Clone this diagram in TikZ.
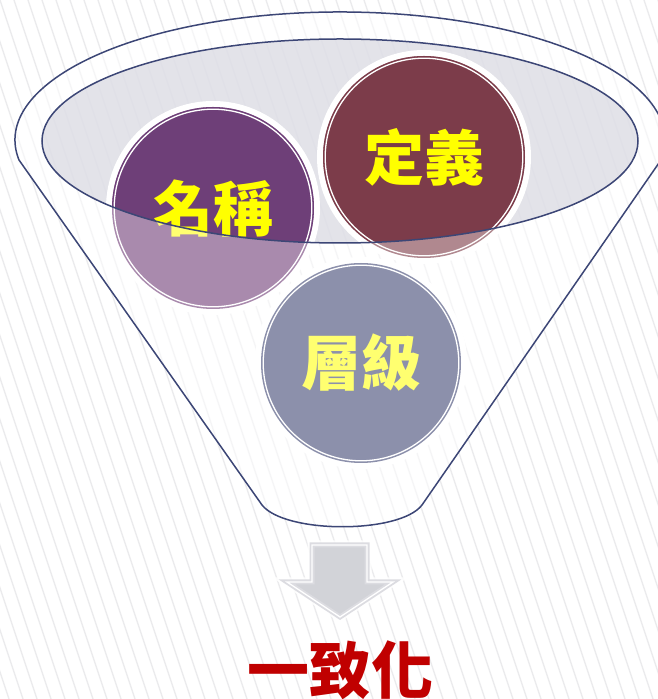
\documentclass[tikz,border=0pt]{standalone}
\usepackage{fontspec}
\newfontfamily\cjk{Noto Sans CJK TC}
\definecolor{stripecol}{HTML}{EBEBED}
\definecolor{navy}{HTML}{3C4676}
\definecolor{rimfill}{HTML}{DADAE2}
\definecolor{nameDark}{HTML}{6E3F78}
\definecolor{nameLight}{HTML}{A98AAD}
\definecolor{defDark}{HTML}{7C3C4A}
\definecolor{defLight}{HTML}{B0888F}
\definecolor{levelCol}{HTML}{8C90AB}
\definecolor{txtYellow}{HTML}{FFFF00}
\definecolor{txtLight}{HTML}{FFFF70}
\definecolor{arrowFill}{HTML}{D2D3D8}
\definecolor{arrowEdge}{HTML}{DCDCE1}
\definecolor{resultRed}{HTML}{C00000}
\tikzset{
  stripe/.style={draw=stripecol, line width=1.3pt},
  funnelline/.style={draw=navy, line width=1.5pt},
  halo/.style={fill=white},
  innerring/.style={draw=white, line width=1.3pt},
  label/.style={font=\cjk\bfseries\fontsize{60}{60}\selectfont, inner sep=0pt},
  result/.style={font=\cjk\bfseries\fontsize{62}{62}\selectfont, inner sep=0pt, text=resultRed}
}
\begin{document}
\begin{tikzpicture}[x=1pt,y=1pt]
\clip (0,0) rectangle (658,699);
\fill[white] (0,0) rectangle (658,699);
% background stripes
\foreach \i in {-18,...,48} {
  \draw[stripe] (\i*14,699) -- ++(233,-699);
}
% funnel body
\path[funnelline, fill=white, fill opacity=0.55]
  (262,194) -- (19,539) arc[start angle=189, end angle=-9, x radius=325, y radius=128]
  -- (422,194) .. controls (400,165) and (285,165) .. (262,194) -- cycle;
% inner rim fill
\fill[rimfill, opacity=0.75] (340,558) ellipse[x radius=298, y radius=102];
% circle halos
\fill[halo] (213,491) circle (107);
\fill[halo] (424,542) circle (107);
\fill[halo] (361,336) circle (106);
% light (outside-rim) versions
\fill[nameLight] (213,491) circle (101);
\draw[innerring] (213,491) circle (98.8);
\fill[defLight] (424,542) circle (101);
\draw[innerring] (424,542) circle (98.8);
\node[label, text=txtLight] (nameL) at (213,491) {名稱};
\node[label, text=txtLight] (defL) at (424,542) {定義};
% dark (inside-rim) versions
\begin{scope}
  \clip (340,558) ellipse[x radius=298, y radius=102];
  \fill[nameDark] (213,491) circle (101);
  \draw[innerring] (213,491) circle (98.8);
  \fill[defDark] (424,542) circle (101);
  \draw[innerring] (424,542) circle (98.8);
  \node[label, text=txtYellow] (name) at (213,491) {名稱};
  \node[label, text=txtYellow] (def) at (424,542) {定義};
\end{scope}
% rim outline
\draw[funnelline] (340,558) ellipse[x radius=298, y radius=102];
% level circle
\fill[levelCol] (361,336) circle (100);
\draw[innerring] (361,336) circle (97.8);
\node[label, text=txtLight] (level) at (361,336) {層級};
% arrow
\path[draw=white, line width=9pt, line join=miter, opacity=0.8]
  (312,154) -- (367,154) -- (367,117) -- (393,117) -- (340,82) -- (287,117) -- (312,117) -- cycle;
\path[fill=arrowFill, draw=arrowEdge, line width=5pt, line join=miter]
  (312,154) -- (367,154) -- (367,117) -- (393,117) -- (340,82) -- (287,117) -- (312,117) -- cycle;
\path[draw=white, line width=1.3pt, line join=miter]
  (312,154) -- (367,154) -- (367,117) -- (393,117) -- (340,82) -- (287,117) -- (312,117) -- cycle;
% result text
\node[result] (res) at (340,29) {一致化};
\end{tikzpicture}
\end{document}
